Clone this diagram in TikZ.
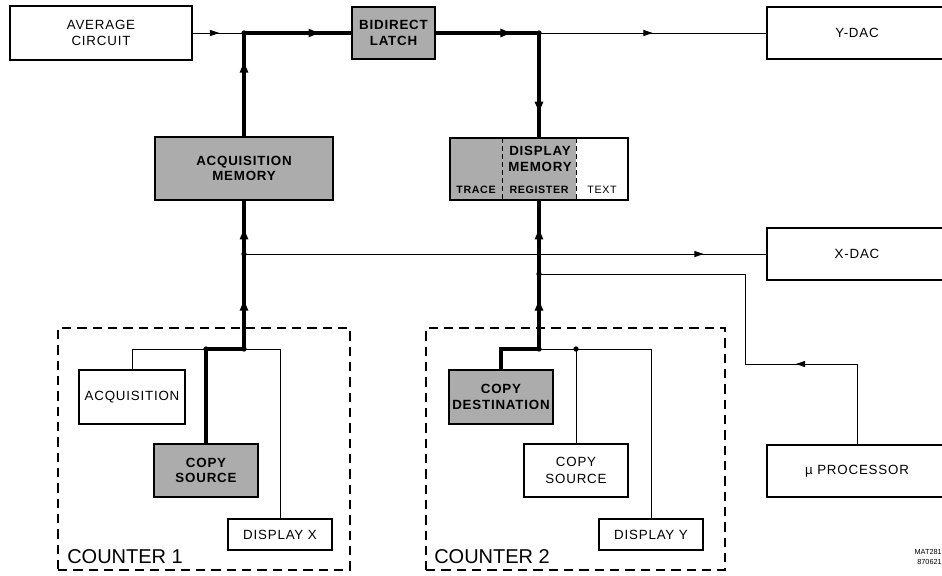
\documentclass[tikz,border=0pt]{standalone}
\usepackage{fontspec}
\setmainfont[LetterSpace=6]{Liberation Sans}
\newfontfamily\plainfont{Liberation Sans}
\usetikzlibrary{arrows.meta,decorations.markings}
\definecolor{gfill}{RGB}{172,172,172}
\begin{document}
\begin{tikzpicture}[x=0.75pt,y=-0.75pt,
  sz/.style 2 args={minimum width=#1*0.75pt, minimum height=#2*0.75pt},
  wbox/.style={draw, line width=0.9pt, fill=white, inner sep=0pt, align=center,
    font=\fontsize{10}{12.5}\selectfont},
  gbox/.style={wbox, fill=gfill, font=\bfseries\fontsize{10}{11.5}\selectfont},
  ctrbox/.style={draw, line width=0.8pt, dash pattern=on 7pt off 4.5pt, inner sep=0pt},
  thk/.style={line width=2.4pt},
  thn/.style={line width=0.7pt},
  tarr/.style={postaction={decorate}, decoration={markings,
    mark=at position #1 with {\arrow{Triangle[length=7pt,width=4.5pt]}}}},
  karr/.style={postaction={decorate}, decoration={markings,
    mark=at position #1 with {\arrow{Triangle[length=8pt,width=6pt]}}}},
  karrtwo/.style 2 args={postaction={decorate}, decoration={markings,
    mark=at position #1 with {\arrow{Triangle[length=8pt,width=6pt]}},
    mark=at position #2 with {\arrow{Triangle[length=8pt,width=6pt]}}}},
  jdot/.style={fill=black}
]
\useasboundingbox (0,0) rectangle (942,575);

% top row
\node[wbox, sz={182}{54}] (avg) at (101,33) {AVERAGE\\CIRCUIT};
\node[gbox, sz={83}{52}] (latch) at (393.5,33) {BIDIRECT\\LATCH};
\node[wbox, sz={180}{52}] (ydac) at (857,33) {Y-DAC};

% memories
\node[gbox, sz={178}{63}] (acqmem) at (244,168.5) {ACQUISITION\\MEMORY};
\fill[gfill] (450,138) rectangle (576,200);
\node[draw, line width=0.9pt, inner sep=0pt, sz={178}{62}] (dispmem) at (539,169) {};
\draw[line width=0.7pt, dash pattern=on 3.5pt off 2.5pt] (502,138) -- (502,200);
\draw[line width=0.7pt, dash pattern=on 3.5pt off 2.5pt] (576,138) -- (576,200);
\node[align=center, font=\bfseries\fontsize{10}{11.5}\selectfont] (dmtxt) at (540,159) {DISPLAY\\MEMORY};
\node[font=\bfseries\fontsize{8}{9}\selectfont] (trace) at (476,190) {TRACE};
\node[font=\bfseries\fontsize{8}{9}\selectfont] (reg) at (539,190) {REGISTER};
\node[font=\fontsize{8}{9}\selectfont] (txt) at (602,190) {TEXT};

% right side
\node[wbox, sz={180}{52}] (xdac) at (857,254) {X-DAC};
\node[wbox, sz={180}{52}] (proc) at (857,471) {µ PROCESSOR};

% counters
\node[ctrbox, sz={292}{242}] (ctr1) at (204,449) {};
\node[ctrbox, sz={299}{242}] (ctr2) at (575.5,449) {};
\node[anchor=base west, inner sep=0pt, font=\plainfont\fontsize{15}{18}\selectfont] (ctr1lbl) at (67,563) {COUNTER 1};
\node[anchor=base west, inner sep=0pt, font=\plainfont\fontsize{15}{18}\selectfont] (ctr2lbl) at (434,563) {COUNTER 2};

\node[wbox, sz={106}{54}] (acq) at (132,397) {ACQUISITION};
\node[gbox, sz={104}{53}] (cs1) at (206,470.5) {COPY\\SOURCE};
\node[wbox, sz={104}{31}] (dx) at (280,534.5) {DISPLAY X};

\node[gbox, sz={104}{54}] (cd) at (501,397) {COPY\\DESTINATION};
\node[wbox, sz={104}{53}] (cs2) at (576,470.5) {COPY\\SOURCE};
\node[wbox, sz={104}{31}] (dy) at (651,534.5) {DISPLAY Y};

\node[anchor=east, align=right, inner sep=0pt, font=\plainfont\fontsize{5.5}{7}\selectfont] (mat) at (942,557) {MAT281\\870621};

% junctions
\coordinate (jA) at (244,33);
\coordinate (jB) at (539,33);
\coordinate (jC) at (244,254);
\coordinate (jD) at (539,274);
\coordinate (jE) at (244,349);
\coordinate (jF) at (206,349);
\coordinate (jG) at (539,349);
\coordinate (jH) at (576,349);
\coordinate (pA) at (745,364);

% thin connectors
\draw[thn, tarr=0.52] (avg.east) -- (jA);
\draw[thn, tarr=0.5] (jB) -- (ydac.west);
\draw[thn, tarr=0.88] (jC) -- (xdac.west);
\draw[thn, tarr=0.29] (proc.north) |- (pA) |- (jD);
\draw[thn] (jF) -| (acq.north);
\draw[thn] (jE) -| (dx.north);
\draw[thn] (jG) -| (dy.north);
\draw[thn] (jH) -- (cs2.north);

% thick connectors
\draw[thk, karr=0.72] (acqmem.north) -- (jA);
\draw[thk, karr=0.7] (jA) -- (latch.west);
\draw[thk, karr=0.73] (latch.east) -- (jB);
\draw[thk, karr=0.76] (jB) -- (dispmem.north);
\draw[thk, karrtwo={0.33}{0.81}] (jE) -- (acqmem.south);
\draw[thk, karrtwo={0.33}{0.81}] (jG) -- (dispmem.south);
\draw[thk] (jE) -- (jF) -- (cs1.north);
\draw[thk] (jG) -| (cd.north);

% junction dots
\foreach \j in {jA,jB,jC,jD,jE,jF,jG,jH}
  \fill[jdot] (\j) circle (2pt);
\end{tikzpicture}
\end{document}
